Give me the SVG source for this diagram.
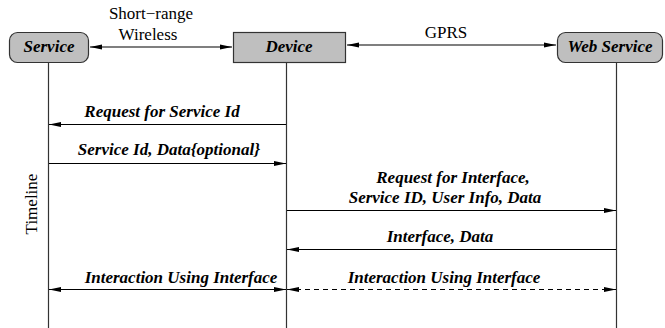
<svg xmlns="http://www.w3.org/2000/svg" width="665" height="328" viewBox="0 0 665 328" font-family="'Liberation Serif', 'Times New Roman', 'DejaVu Serif', serif">
<style>
.box{fill:#bfbfbf;stroke:#333;stroke-width:1.2}
.life{stroke:#333;stroke-width:1.2;fill:none}
.msg{stroke:#000;stroke-width:1.2;fill:none}
.dash{stroke-dasharray:5,4}
.t{font-family:'Liberation Serif','Times New Roman','DejaVu Serif',serif;font-size:17px;fill:#000;text-anchor:middle}
.b{font-weight:bold;font-style:italic}
</style>
<defs>
<marker id="ah" markerWidth="13" markerHeight="6" refX="12" refY="3" orient="auto-start-reverse" markerUnits="userSpaceOnUse">
<path d="M0,0.5 L12,3 L0,5.5 Z" fill="#000"/>
</marker>
</defs>
<rect width="665" height="328" fill="#fff"/>
<g id="lifelines">
<line class="life" x1="48.5" y1="62" x2="48.5" y2="328"/>
<line class="life" x1="286.5" y1="62" x2="286.5" y2="328"/>
<line class="life" x1="616.5" y1="62" x2="616.5" y2="328"/>
</g>
<g id="service">
<rect class="box" x="9.5" y="32.5" width="79" height="30" rx="8"/>
<text class="t b" x="49" y="52">Service</text>
</g>
<g id="device">
<rect class="box" x="233.5" y="32.5" width="112" height="30"/>
<text class="t b" x="289" y="52">Device</text>
</g>
<g id="webservice">
<rect class="box" x="557.5" y="32.5" width="105" height="30" rx="8"/>
<text class="t b" x="610" y="52">Web Service</text>
</g>
<g id="timeline">
<text class="t" transform="translate(37,204) rotate(-90)">Timeline</text>
</g>
<g id="connectors">
<line class="msg" x1="90" y1="47" x2="232" y2="47" marker-start="url(#ah)" marker-end="url(#ah)"/>
<line class="msg" x1="347" y1="45" x2="556" y2="45" marker-start="url(#ah)" marker-end="url(#ah)"/>
<line class="msg" x1="286" y1="124.5" x2="49" y2="124.5" marker-end="url(#ah)"/>
<line class="msg" x1="49" y1="163.5" x2="286" y2="163.5" marker-end="url(#ah)"/>
<line class="msg" x1="287" y1="210.5" x2="616" y2="210.5" marker-end="url(#ah)"/>
<line class="msg" x1="616" y1="249.5" x2="287" y2="249.5" marker-end="url(#ah)"/>
<line class="msg" x1="49" y1="289.5" x2="286" y2="289.5" marker-start="url(#ah)" marker-end="url(#ah)"/>
<line class="msg dash" x1="287" y1="289.5" x2="616" y2="289.5" marker-start="url(#ah)" marker-end="url(#ah)"/>
</g>
<g id="labels">
<text class="t" x="151" y="19">Short−range</text>
<text class="t" x="148" y="40">Wireless</text>
<text class="t" x="446" y="38">GPRS</text>
<text class="t b" x="162" y="117">Request for Service Id</text>
<text class="t b" x="169" y="155">Service Id, Data{optional}</text>
<text class="t b" x="453" y="183">Request for Interface,</text>
<text class="t b" x="445" y="203">Service ID, User Info, Data</text>
<text class="t b" x="440" y="242">Interface, Data</text>
<text class="t b" x="181" y="283">Interaction Using Interface</text>
<text class="t b" x="444" y="283">Interaction Using Interface</text>
</g>
</svg>
